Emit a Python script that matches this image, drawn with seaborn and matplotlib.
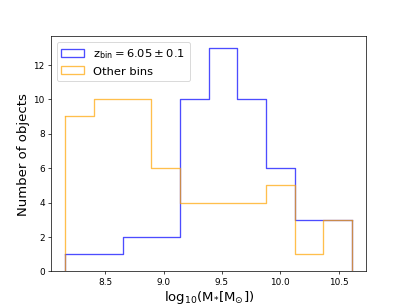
import numpy as np
import pandas as pd
import matplotlib
matplotlib.use('Agg')
import matplotlib.pyplot as plt
import seaborn as sns
from matplotlib.patches import Patch

# bin edges in log10(M*), shared by both histograms
bin_edges = [8.157, 8.403, 8.648, 8.894, 9.140, 9.385, 9.631, 9.877, 10.122, 10.368, 10.614]
# counts per bin
zbin_counts  = [1, 1, 2, 2, 10, 13, 10, 6, 3, 3]
other_counts = [9, 10, 10, 6, 4, 4, 4, 5, 1, 3]

edges = np.array(bin_edges)
centers = 0.5 * (edges[:-1] + edges[1:])

df_z = pd.DataFrame({'mass': centers, 'n': zbin_counts})
df_o = pd.DataFrame({'mass': centers, 'n': other_counts})

fig, ax = plt.subplots(figsize=(6.4, 4.8), dpi=63.6)

for df, counts, col in [(df_z, zbin_counts, 'blue'), (df_o, other_counts, 'orange')]:
    sns.histplot(data=df, x='mass', weights='n', bins=list(bin_edges), element='step', fill=False,
                 color=col, alpha=0.7, linewidth=1.5, ax=ax)
    # close the outline down to zero at both ends like histtype='step'
    ax.vlines([edges[0], edges[-1]], 0, [counts[0], counts[-1]], colors=col, alpha=0.7, linewidth=1.5)

ax.set_ylim(0, 1.05 * max(max(zbin_counts), max(other_counts)))
ax.set_xlim(edges[0] - 0.05 * (edges[-1] - edges[0]), edges[-1] + 0.05 * (edges[-1] - edges[0]))

ax.set_xlabel(r'$\rm{log_{10}(M_{*}[M_{\odot}])}$', fontsize=15, labelpad=2)
ax.set_ylabel('Number of objects', fontsize=15)

handles = [Patch(facecolor='none', edgecolor='blue', alpha=0.7, linewidth=1.5),
           Patch(facecolor='none', edgecolor='orange', alpha=0.7, linewidth=1.5)]
ax.legend(handles, [r'$\rm{z_{bin} = 6.05 \pm 0.1}$', 'Other bins'], loc='upper left', fontsize=13)

fig.savefig('out.png', dpi=63.6)
